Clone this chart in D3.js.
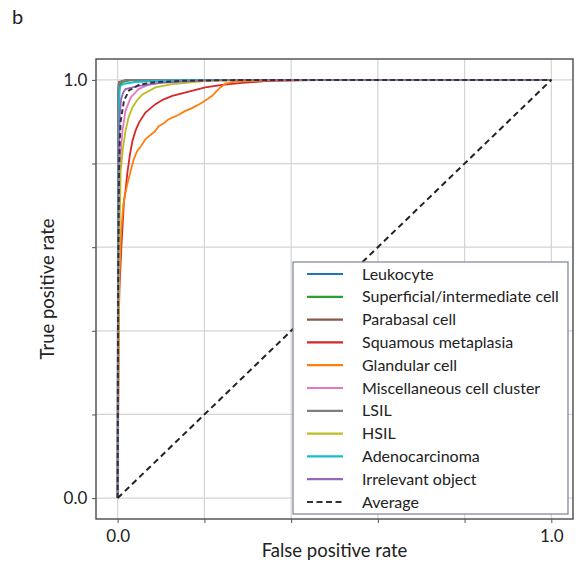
<!DOCTYPE html>
<html>
<head>
  <meta charset="utf-8">
  <script src="https://d3js.org/d3.v7.min.js"></script>
  <style>
    body { margin: 0; background: #fff; }
    text { font-family: Lato, "Noto Sans", sans-serif; fill: #222; }
  </style>
</head>
<body>
<div id="chart"></div>
<script>
// class names and colours, in legend order
const classNames = ["Leukocyte", "Superficial/intermediate cell", "Parabasal cell",
  "Squamous metaplasia", "Glandular cell", "Miscellaneous cell cluster",
  "LSIL", "HSIL", "Adenocarcinoma", "Irrelevant object", "Average"];
const classColors = ["#1f77b4", "#2ca02c", "#8c564b", "#d62728", "#ff7f0e",
  "#e377c2", "#7f7f7f", "#bcbd22", "#17becf", "#9467bd", "#333333"];

// ROC points [fpr, tpr]
const leukocyte = [[0,0],[0.001,0.95],[0.003,0.99],[0.01,0.997],[0.03,1],[1,1]];
const superficial = [[0,0],[0.001,0.9],[0.004,0.985],[0.01,0.995],[0.03,0.999],[0.1,1],[1,1]];
const parabasal = [[0,0],[0.001,0.97],[0.003,0.995],[0.02,1],[1,1]];
const squamous = [[0,0],[0.002,0.4],[0.004,0.5],[0.0085,0.6],[0.0145,0.71],[0.018,0.734],
  [0.022,0.775],[0.028,0.82],[0.034,0.854],[0.041,0.878],[0.049,0.898],[0.064,0.922],
  [0.087,0.942],[0.105,0.953],[0.126,0.962],[0.164,0.972],[0.202,0.982],[0.241,0.988],
  [0.287,0.993],[0.34,0.997],[0.42,0.999],[0.5,1],[1,1]];
const glandular = [[0,0],[0.002,0.3],[0.004,0.536],[0.008,0.64],[0.013,0.7],[0.018,0.73],
  [0.022,0.75],[0.03,0.782],[0.037,0.81],[0.045,0.83],[0.054,0.842],[0.064,0.858],
  [0.075,0.868],[0.085,0.876],[0.095,0.89],[0.105,0.895],[0.115,0.904],[0.126,0.91],
  [0.14,0.916],[0.156,0.926],[0.17,0.932],[0.183,0.939],[0.195,0.946],[0.208,0.955],
  [0.218,0.962],[0.228,0.973],[0.237,0.982],[0.248,0.991],[0.27,0.996],[0.35,0.999],[0.45,1],[1,1]];
const misc = [[0,0],[0.002,0.6],[0.005,0.78],[0.008,0.84],[0.011,0.878],[0.018,0.926],
  [0.03,0.958],[0.048,0.978],[0.07,0.988],[0.1,0.994],[0.15,0.998],[0.25,1],[1,1]];
const lsil = [[0,0],[0.001,0.96],[0.002,0.99],[0.01,0.998],[0.03,1],[1,1]];
const hsil = [[0,0],[0.003,0.5],[0.005,0.68],[0.007,0.782],[0.012,0.835],[0.018,0.878],
  [0.025,0.91],[0.034,0.934],[0.045,0.952],[0.057,0.965],[0.087,0.982],[0.126,0.99],
  [0.2,0.997],[0.3,1],[1,1]];
const adeno = [[0,0],[0.001,0.7],[0.003,0.92],[0.0045,0.974],[0.006,0.985],[0.012,0.99],
  [0.04,0.995],[0.1,0.998],[0.2,1],[1,1]];
const irrelevant = [[0,0],[0.002,0.8],[0.005,0.92],[0.008,0.955],[0.013,0.97],
  [0.018,0.978],[0.049,0.986],[0.1,0.993],[0.2,0.999],[0.3,1],[1,1]];
const average = [[0,0],[0.001,0.5],[0.003,0.78],[0.005,0.86],[0.007,0.902],[0.0145,0.95],
  [0.026,0.975],[0.049,0.988],[0.08,0.994],[0.15,0.998],[0.3,1],[1,1]];
const chance = [[0,0],[1,1]];

const curves = [leukocyte, superficial, parabasal, squamous, glandular, misc,
  lsil, hsil, adeno, irrelevant, average];

const tickVals = [0, 0.2, 0.4, 0.6, 0.8, 1.0];
const tickLabels = ["0.0", "", "", "", "", "1.0"];

const W = 581, H = 568;
const pLeft = 96, pRight = 573, pTop = 59, pBottom = 519;

const svg = d3.select("#chart").append("svg")
  .attr("width", W).attr("height", H);

const x = d3.scaleLinear().domain([-0.05, 1.05]).range([pLeft, pRight]);
const y = d3.scaleLinear().domain([-0.05, 1.05]).range([pBottom, pTop]);

// grid
svg.append("g").selectAll("line").data(tickVals).join("line")
  .attr("x1", d => x(d)).attr("x2", d => x(d))
  .attr("y1", pTop).attr("y2", pBottom)
  .attr("stroke", "#d4d4d4").attr("stroke-width", 1.2);
svg.append("g").selectAll("line").data(tickVals).join("line")
  .attr("y1", d => y(d)).attr("y2", d => y(d))
  .attr("x1", pLeft).attr("x2", pRight)
  .attr("stroke", "#d4d4d4").attr("stroke-width", 1.2);

// axes
const fmt = (d, i) => tickLabels[i];
const xAxis = svg.append("g")
  .attr("transform", `translate(0,${pBottom})`)
  .call(d3.axisBottom(x).tickValues(tickVals).tickFormat(fmt).tickSize(4).tickSizeOuter(0));
const yAxis = svg.append("g")
  .attr("transform", `translate(${pLeft},0)`)
  .call(d3.axisLeft(y).tickValues(tickVals).tickFormat(fmt).tickSize(4).tickSizeOuter(0));
[xAxis, yAxis].forEach(a => {
  a.select(".domain").remove();
  a.selectAll(".tick line").attr("stroke", "#555");
  a.selectAll("text").style("font-size", "17px").attr("fill", "#222");
});
xAxis.selectAll("text").attr("dy", "0.95em");
yAxis.selectAll("text").attr("dx", "-0.1em");

// frame
svg.append("rect")
  .attr("x", pLeft).attr("y", pTop)
  .attr("width", pRight - pLeft).attr("height", pBottom - pTop)
  .attr("fill", "none").attr("stroke", "#555").attr("stroke-width", 1.5);

// curves
const line = d3.line().x(d => x(d[0])).y(d => y(d[1]));
curves.forEach((c, i) => {
  svg.append("path")
    .datum(c)
    .attr("d", line)
    .attr("fill", "none")
    .attr("stroke", classColors[i])
    .attr("stroke-width", i === 10 ? 2 : 1.8)
    .attr("stroke-dasharray", i === 10 ? "5,3" : null);
});
svg.append("path")
  .datum(chance)
  .attr("d", line)
  .attr("fill", "none")
  .attr("stroke", "#222")
  .attr("stroke-width", 2)
  .attr("stroke-dasharray", "6,4");

// legend
const lg = svg.append("g");
lg.append("rect")
  .attr("x", 293).attr("y", 262).attr("width", 275).attr("height", 252)
  .attr("fill", "#fff").attr("stroke", "#7a8294").attr("stroke-width", 1.2);
classNames.forEach((name, i) => {
  const yy = 274 + i * 22.8;
  lg.append("line")
    .attr("x1", 307).attr("x2", 343).attr("y1", yy).attr("y2", yy)
    .attr("stroke", classColors[i]).attr("stroke-width", 2.2)
    .attr("stroke-dasharray", i === 10 ? "6,3.5" : null);
  lg.append("text")
    .attr("x", 362).attr("y", yy).attr("dy", "0.35em")
    .style("font-size", "16px")
    .text(name);
});

// axis titles and panel letter
svg.append("text")
  .attr("x", (pLeft + pRight) / 2).attr("y", 557)
  .attr("text-anchor", "middle")
  .style("font-size", "18.5px")
  .text("False positive rate");
svg.append("text")
  .attr("transform", `translate(54,${(pTop + pBottom) / 2}) rotate(-90)`)
  .attr("text-anchor", "middle")
  .style("font-size", "18.5px")
  .text("True positive rate");
svg.append("text")
  .attr("x", 12).attr("y", 24)
  .style("font-size", "20px")
  .text("b");
</script>
</body>
</html>
